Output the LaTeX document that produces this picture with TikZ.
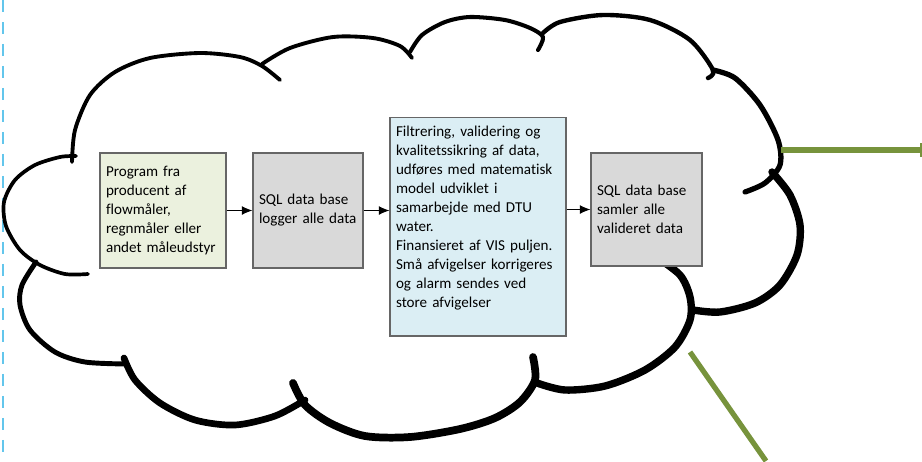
\documentclass[tikz,border=0pt]{standalone}
\usepackage{fontspec}
\setmainfont{Carlito}[Ligatures=NoCommon]
\usetikzlibrary{arrows.meta}

\definecolor{boxgreen}{HTML}{EBF1DE}
\definecolor{boxgray}{HTML}{D9D9D9}
\definecolor{boxblue}{HTML}{DBEEF4}
\definecolor{olive}{HTML}{77933C}
\definecolor{guide}{HTML}{63C6EC}

\begin{document}
\begin{tikzpicture}[
            x=0.02cm, y=-0.02cm,
            cloudline/.style={
                draw=black,
                line cap=round,
                line join=round
            },
            box/.style={
                rectangle,
                draw=black!60,
                line width=0.6pt,
                inner xsep=0.12cm,
                inner ysep=0pt,
                align=left,
                font=\fontsize{8.6}{10.8}\selectfont
            },
            arrow/.style={-{Latex[length=6pt,width=5pt]}, line width=0.6pt},
            outline/.style={draw=olive, line width=3pt}
        ]
        \useasboundingbox (0,0) rectangle (922,461);

        % Guide line at the left edge
        \draw[guide, line width=1.1pt, dash pattern=on 0.24cm off 0.2cm] (3,0) -- (3,461);

        % Cloud
        \draw[cloudline, line width=2.1pt] plot[smooth] coordinates {(76,156) (60,157) (35,165) (15,180) (4,202) (6,226) (20,250) (40,265) (65,274) (88,274)};
        \draw[cloudline, line width=2.2pt] plot[smooth] coordinates {(72,162) (75,130) (90,95) (115,72) (150,58) (200,53) (240,57) (262,66) (280,80)};
        \draw[cloudline, line width=2.2pt] plot[smooth] coordinates {(262,64) (290,48) (333,37) (373,38) (400,46) (412,58)};
        \draw[cloudline, line width=2.3pt] plot[smooth] coordinates {(410,52) (422,35) (445,22) (470,17) (505,20) (530,28) (543,37) (538,50)};
        \draw[cloudline, line width=2.5pt] plot[smooth] coordinates {(543,33) (560,22) (603,15) (650,20) (690,40) (713,70) (708,78)};
        \draw[cloudline, line width=3.0pt] plot[smooth] coordinates {(713,70) (735,78) (760,105) (778,140) (780,165) (765,183) (745,192)};
        \draw[cloudline, line width=4.2pt] plot[smooth] coordinates {(772,172) (790,195) (800,225) (797,255) (780,285) (755,303) (720,312) (693,310)};
        \draw[cloudline, line width=4.2pt] plot[smooth] coordinates {(655,256) (680,275) (690,297) (690,320) (675,347) (645,370) (605,386) (565,390) (537,383)};
        \draw[cloudline, line width=4.4pt] plot[smooth] coordinates {(533,357) (535,380) (520,402) (495,418) (460,429) (410,437) (365,436) (330,423) (305,405) (293,383)};
        \draw[cloudline, line width=3.8pt] plot[smooth] coordinates {(124,358) (135,380) (160,403) (195,420) (235,425) (275,416) (305,400)};
        \draw[cloudline, line width=2.8pt] plot[smooth] coordinates {(36,262) (22,285) (20,305) (30,330) (55,352) (85,362) (127,364)};

        % Boxes
        \node[box, fill=boxgreen, text width=2.28cm, minimum height=2.3cm] (prog) at (163,210.5) {Program fra\\producent af\\flowmåler,\\regnmåler eller\\andet måleudstyr};
        \node[box, fill=boxgray, text width=1.96cm, minimum height=2.3cm] (sqlone) at (308,210.5) {SQL data base\\logger alle data};
        \node[box, fill=boxblue, text width=3.28cm, minimum height=4.38cm] (filter) at (478,226.5) {Filtrering, validering og\\kvalitetssikring af data,\\udføres med matematisk\\model udviklet i\\samarbejde med DTU\\water.\\Finansieret af VIS puljen.\\Små afvigelser korrigeres\\og alarm sendes ved\\store afvigelser\\\mbox{}};
        \node[box, fill=boxgray, text width=1.98cm, minimum height=2.26cm] (sqltwo) at (646.5,209.5) {SQL data base\\samler alle\\valideret data};

        % Connecting arrows
        \draw[arrow] (prog.east) -- (sqlone.west);
        \draw[arrow] (sqlone.east) -- (sqlone.east -| filter.west);
        \draw[arrow] (sqltwo.west -| filter.east) -- (sqltwo.west);

        % Lines leaving the cloud
        \coordinate (cloudE) at (781,150);
        \coordinate (outE) at (921,150);
        \coordinate (cloudS) at (690,352);
        \coordinate (outS) at (766,461);
        \draw[outline] (cloudE) -- (outE);
        \draw[draw=olive, line width=0.6pt] ([yshift=0.14cm]outE) -- ([yshift=-0.14cm]outE);
        \draw[outline] (cloudS) -- (outS);

        \end{tikzpicture}
\end{document}
